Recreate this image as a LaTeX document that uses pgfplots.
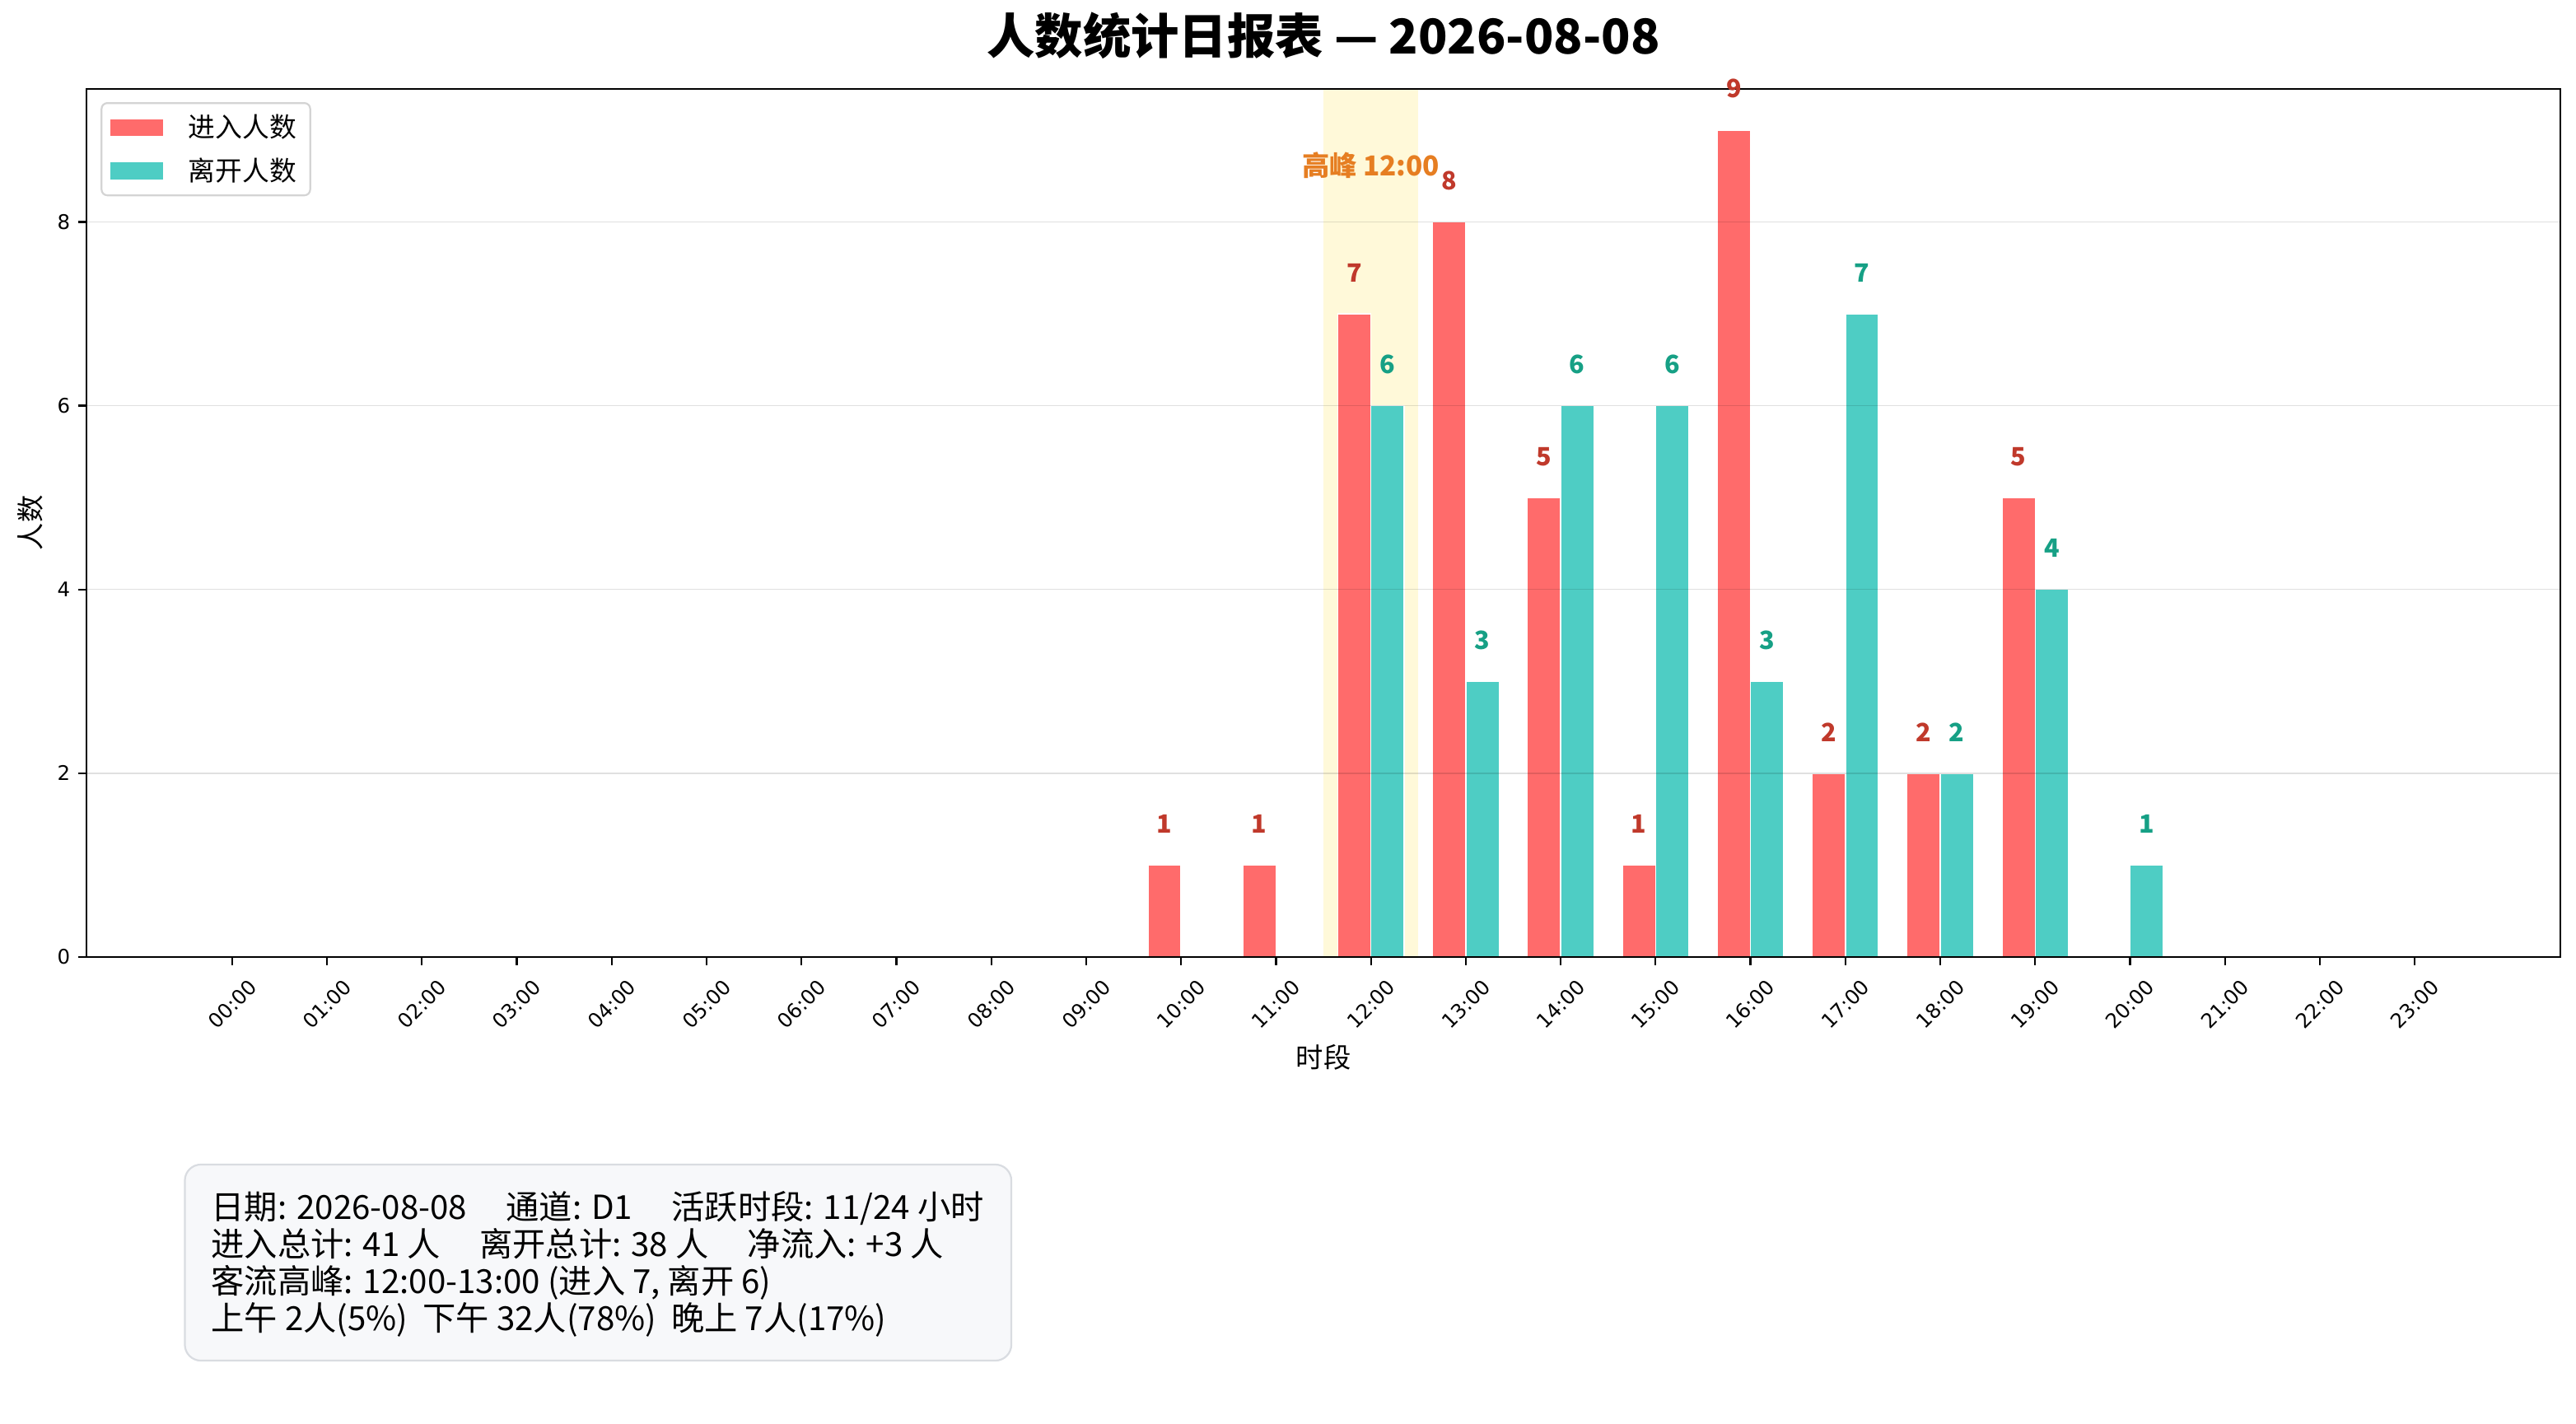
\documentclass[border=0pt]{standalone}
\usepackage{fontspec}
\setmainfont{Noto Sans CJK SC}
\newfontfamily\dejavu{DejaVu Sans}
\usepackage{pgfplots}
\usepackage{pgfplotstable}
\pgfplotsset{compat=1.18}

\definecolor{cin}{HTML}{FF6B6B}
\definecolor{cout}{HTML}{4ECDC4}
\definecolor{lin}{HTML}{C0392B}
\definecolor{lout}{HTML}{16A085}
\definecolor{peak}{HTML}{E67E22}
\definecolor{gold}{HTML}{FFD700}
\definecolor{boxfill}{HTML}{F7F8FA}
\definecolor{boxdraw}{HTML}{D9DCE1}

\pgfplotstableread{
h in inl out outl
0 0 {} 0 {}
1 0 {} 0 {}
2 0 {} 0 {}
3 0 {} 0 {}
4 0 {} 0 {}
5 0 {} 0 {}
6 0 {} 0 {}
7 0 {} 0 {}
8 0 {} 0 {}
9 0 {} 0 {}
10 1 1 0 {}
11 1 1 0 {}
12 7 7 6 6
13 8 8 3 3
14 5 5 6 6
15 1 1 6 6
16 9 9 3 3
17 2 2 7 7
18 2 2 2 2
19 5 5 4 4
20 0 {} 1 1
21 0 {} 0 {}
22 0 {} 0 {}
23 0 {} 0 {}
}\flow

\begin{document}
\begin{tikzpicture}
\useasboundingbox (0,0) rectangle (1126.08pt,622.44pt);
\begin{axis}[
  at={(37.8pt,204.12pt)}, anchor=south west,
  scale only axis, width=1081.44pt, height=379.55pt,
  xmin=-1.535, xmax=24.535, ymin=0, ymax=9.45,
  clip=false,
  xtick={0,...,23},
  xticklabels={00:00,01:00,02:00,03:00,04:00,05:00,06:00,07:00,08:00,09:00,10:00,11:00,12:00,13:00,14:00,15:00,16:00,17:00,18:00,19:00,20:00,21:00,22:00,23:00},
  ytick={0,2,4,6,8},
  tick align=outside, xtick pos=lower, ytick pos=left,
  major tick length=3.6pt,
  tick style={black, line width=0.8pt},
  axis line style={black, line width=0.8pt},
  ymajorgrids, grid style={black, opacity=0.12, line width=0.5pt},
  axis on top,
  /pgf/number format/assume math mode=true,
  ticklabel style={font=\fontsize{8.8}{10}\dejavu},
  xticklabel style={yshift=-17pt, rotate=45, anchor=center},
  title={人数统计日报表 — 2026-08-08},
  title style={font=\fontsize{21}{24}\selectfont\bfseries, at={(axis description cs:0.5,1.0455)}, anchor=center},
  xlabel={时段},
  xlabel style={font=\fontsize{12}{14}\selectfont, at={(axis description cs:0.5,-0.1157)}, anchor=center},
  ylabel={人数},
  ylabel style={font=\fontsize{12}{14}\selectfont, at={(axis description cs:-0.02265,0.5)}, anchor=center},
  ybar, bar width=0.35,
  point meta=explicit symbolic,
  legend cell align=left,
  legend image code/.code={\fill[#1, draw=none, sharp corners] (0pt,-3.7pt) rectangle (23pt,3.7pt); \path[draw=none, fill=none] (0pt,0pt) -- (32pt,0pt);},
  legend style={at={(axis description cs:0,1)}, xshift=6.2pt, yshift=-5.9pt, anchor=north west,
    draw=black!17, line width=0.8pt, rounded corners=2.5pt, fill=white,
    font=\fontsize{11.8}{14}\selectfont, inner xsep=4pt, inner ysep=3pt, row sep=3.4pt,
    nodes={inner sep=2pt}},
]
\fill[gold, opacity=0.15] (axis cs:11.5,0) rectangle (axis cs:12.5,9.45);
\addplot[fill=cin, draw=white, line width=0.5pt, bar shift=-0.175,
  nodes near coords,
  every node near coord/.append style={font=\fontsize{11}{12}\selectfont\bfseries, text=lin, anchor=center, yshift=18pt}]
  table[x=h, y=in, meta=inl] {\flow};
\addlegendentry{进入人数}
\addplot[fill=cout, draw=white, line width=0.5pt, bar shift=0.175,
  nodes near coords,
  every node near coord/.append style={font=\fontsize{11}{12}\selectfont\bfseries, text=lout, anchor=center, yshift=18pt}]
  table[x=h, y=out, meta=outl] {\flow};
\addlegendentry{离开人数}
\node[font=\fontsize{12}{14}\selectfont\bfseries, text=peak, anchor=center] at (axis cs:12,8.62) {高峰 12:00};
\end{axis}
\draw[boxdraw, fill=boxfill, rounded corners=7pt, line width=0.8pt] (80.8pt,27.7pt) rectangle (442.1pt,113.4pt);
\node[anchor=north west, inner sep=0pt, align=left, font=\fontsize{14.5}{16.2}\selectfont] at (92.2pt,101.8pt)
{日期: 2026-08-08\hspace{17pt}通道: D1\hspace{17pt}活跃时段: 11/24 小时\\
进入总计: 41 人\hspace{17pt}离开总计: 38 人\hspace{17pt}净流入: +3 人\\
客流高峰: 12:00-13:00 (进入 7, 离开 6)\\
上午 2人(5\%)\hspace{6.5pt}下午 32人(78\%)\hspace{6.5pt}晚上 7人(17\%)};
\end{tikzpicture}
\end{document}
